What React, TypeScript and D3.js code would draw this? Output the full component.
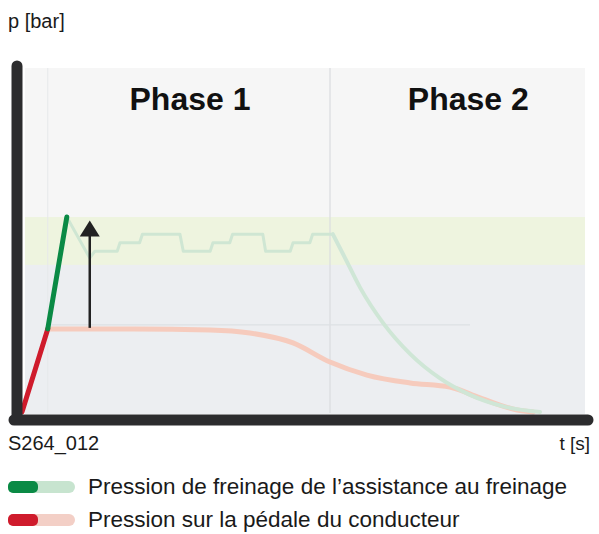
import React from "react";
import * as d3 from "d3";

// brake pressure curves, t and p in arbitrary units (0..100)
const driverBoldT = [0, 4.6];
const driverBoldP = [0, 24.3];
const assistBoldT = [4.6, 8.0];
const assistBoldP = [24.3, 57];

const driverFadeT = [4.6, 20, 33.6, 40.7, 48.4, 55.0, 61.6, 69.3, 76.4, 81.8, 88.4, 91.3];
const driverFadeP = [24.3, 24.3, 24.0, 23.1, 20.2, 14.6, 10.8, 8.5, 7.3, 4.1, 0.6, 0];

const assistFadeT = [8.0, 12.1, 13.0, 17.0, 17.5, 21.0, 21.5, 28.2, 28.8, 33.6, 34.1, 37.1, 37.6, 43.0, 43.5, 47.9, 48.4, 51.4, 51.9, 55.5];
const assistFadeP = [57, 45, 47, 47, 49.5, 49.5, 52, 52, 47, 47, 49.5, 49.5, 52, 52, 47, 47, 49.5, 49.5, 52, 52];
const assistDecayT = [55.5, 57.7, 60.4, 64.5, 69.3, 74.6, 80.0, 86.3, 92.5];
const assistDecayP = [52, 45.0, 36.3, 26.0, 17.0, 9.9, 5.0, 1.5, 0];

const phaseLabels = ["Phase 1", "Phase 2"];
const phaseCenters = [30, 79.7];
const phaseBoundary = 55.0;
const targetBand = [43, 57];
const arrowT = 12.1;
const arrowFrom = 24.6;
const arrowTo = 56;

const legendItems = [
  { label: "Pression de freinage de l’assistance au freinage", dark: "#0a8a45", light: "#c7e4cf" },
  { label: "Pression sur la pédale du conducteur", dark: "#cf1b2c", light: "#f3cfc6" },
];

const zip = (t: number[], p: number[]) => t.map((v, i) => [v, p[i]] as [number, number]);

export default function App() {
  const W = 599, H = 534;
  const x = d3.scaleLinear().domain([0, 100]).range([22, 582]);
  const y = d3.scaleLinear().domain([0, 100]).range([412, 70]);
  const line = d3.line<[number, number]>().x(d => x(d[0])).y(d => y(d[1]));
  const smooth = d3.line<[number, number]>().x(d => x(d[0])).y(d => y(d[1])).curve(d3.curveMonotoneX);
  const font = "'Liberation Sans', Arial, sans-serif";

  return (
    <svg width={W} height={H} style={{ position: "absolute", left: 0, top: 0 }}>
      <rect width={W} height={H} fill="#fff" />
      <text x={8} y={28} fontSize={20} fontFamily={font} fill="#1a1a1a">p [bar]</text>

      {/* plot background */}
      <rect x={25} y={68} width={560} height={y(targetBand[1]) - 68} fill="#f6f6f6" />
      <rect x={25} y={y(targetBand[1])} width={560} height={y(targetBand[0]) - y(targetBand[1])} fill="#eef4df" />
      <rect x={25} y={y(targetBand[0])} width={560} height={y(0) + 2 - y(targetBand[0])} fill="#eceef1" />
      <line x1={x(phaseBoundary)} x2={x(phaseBoundary)} y1={68} y2={413} stroke="#dadcdf" strokeWidth={1.2} />
      <line x1={x(4.6)} x2={x(4.6)} y1={68} y2={413} stroke="#e6e8ea" strokeWidth={1} />
      <line x1={x(5)} x2={x(80)} y1={y(25.5)} y2={y(25.5)} stroke="#dde0e3" strokeWidth={1.2} />

      {phaseLabels.map((p, i) => (
        <text key={p} x={x(phaseCenters[i])} y={110} textAnchor="middle" fontSize={32} fontWeight="bold" fontFamily={font} fill="#111">{p}</text>
      ))}

      {/* faded curves */}
      <path d={smooth(zip(driverFadeT, driverFadeP)) ?? ""} fill="none" stroke="#f6cbbd" strokeWidth={5} strokeLinecap="round" />
      <path d={line(zip(assistFadeT, assistFadeP)) ?? ""} fill="none" stroke="#cfe6d3" strokeWidth={3} strokeLinejoin="round" />
      <path d={smooth(zip(assistDecayT, assistDecayP)) ?? ""} fill="none" stroke="#cfe6d6" strokeWidth={4} strokeLinecap="round" />

      {/* arrow */}
      <line x1={x(arrowT)} x2={x(arrowT)} y1={y(arrowFrom)} y2={y(arrowTo) + 14} stroke="#222" strokeWidth={2.5} />
      <path d={`M${x(arrowT) - 10},${y(arrowTo) + 16} L${x(arrowT)},${y(arrowTo)} L${x(arrowT) + 10},${y(arrowTo) + 16} Z`} fill="#222" />

      {/* bold curves */}
      <path d={line(zip(driverBoldT, driverBoldP)) ?? ""} fill="none" stroke="#cf1b2c" strokeWidth={5} strokeLinecap="round" />
      <path d={line(zip(assistBoldT, assistBoldP)) ?? ""} fill="none" stroke="#0a8a45" strokeWidth={5} strokeLinecap="round" />

      {/* axes */}
      <line x1={17} x2={17} y1={66} y2={418} stroke="#2c2c2e" strokeWidth={11} strokeLinecap="round" />
      <line x1={14} x2={588} y1={420} y2={420} stroke="#2c2c2e" strokeWidth={11} strokeLinecap="round" />

      <text x={8} y={450} fontSize={20} fontFamily={font} fill="#1a1a1a">S264_012</text>
      <text x={590} y={450} textAnchor="end" fontSize={19} fontFamily={font} fill="#1a1a1a">t [s]</text>

      {legendItems.map((d, i) => {
        const cy = 487 + i * 33;
        return (
          <g key={d.label}>
            <rect x={8} y={cy - 6} width={67} height={12} rx={6} fill={d.light} />
            <rect x={8} y={cy - 6} width={30} height={12} rx={5} fill={d.dark} />
            <text x={88} y={cy + 7} fontSize={22.5} fontFamily={font} fill="#1a1a1a">{d.label}</text>
          </g>
        );
      })}
    </svg>
  );
}
